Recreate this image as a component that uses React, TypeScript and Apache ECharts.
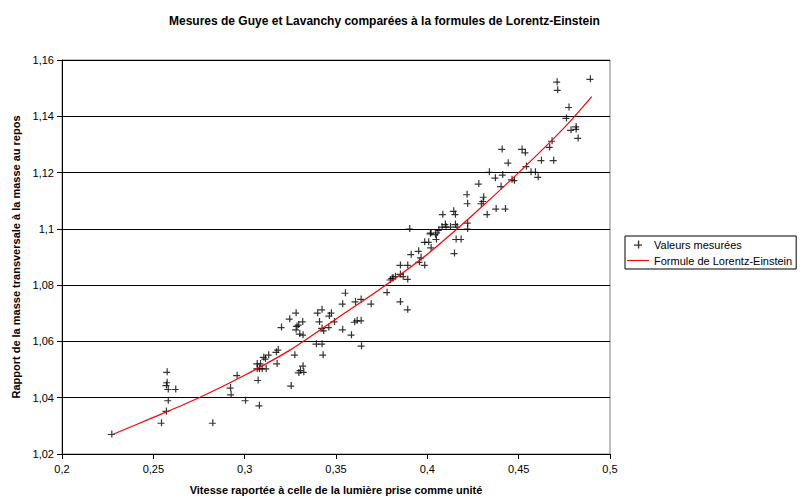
import React, { useEffect, useRef } from "react";
import * as echarts from "echarts";

const titleText = "Mesures de Guye et Lavanchy comparées à la formules de Lorentz-Einstein";
const xAxisName = "Vitesse raportée à celle de la lumière prise comme unité";
const yAxisName = "Rapport de la masse transversale à la masse au repos";
const seriesMeasured = "Valeurs mesurées";
const seriesFormula = "Formule de Lorentz-Einstein";

// Measured values (vitesse, rapport)
const vitesse = [
  0.227, 0.2573, 0.2573, 0.2569, 0.2579, 0.262, 0.2579, 0.2569, 0.2542, 0.2823,
  0.292, 0.2923, 0.2956, 0.3002, 0.3078, 0.3071, 0.3252, 0.3549, 0.3534, 0.3279,
  0.3244, 0.3397, 0.3421, 0.3472, 0.3461, 0.3315, 0.3293, 0.3284, 0.3279, 0.3299,
  0.3317, 0.3407, 0.3199, 0.3421, 0.343, 0.3458, 0.3534, 0.3582, 0.36, 0.339,
  0.3421, 0.3427, 0.3181, 0.3171, 0.3272, 0.3129, 0.3102, 0.3111, 0.3066, 0.3084,
  0.3066, 0.3078, 0.3093, 0.3115, 0.3175, 0.3317, 0.3303, 0.3321, 0.3294, 0.3909,
  0.395, 0.385, 0.389, 0.3805, 0.3823, 0.385, 0.3865, 0.389, 0.3777, 0.3604,
  0.3635, 0.369, 0.385, 0.389, 0.3613, 0.3635, 0.4279, 0.4215, 0.4218, 0.4082,
  0.4142, 0.4151, 0.3901, 0.4096, 0.4078, 0.41, 0.4124, 0.4151, 0.416, 0.4218,
  0.4218, 0.406, 0.4051, 0.4042, 0.4018, 0.4155, 0.4182, 0.3983, 0.4005, 0.4018,
  0.4146, 0.3963, 0.3954, 0.3983, 0.4407, 0.4516, 0.4534, 0.444, 0.454, 0.4337,
  0.441, 0.437, 0.4565, 0.4589, 0.4604, 0.4461, 0.4474, 0.4401, 0.4306, 0.4303,
  0.4293, 0.4374, 0.4425, 0.4325, 0.489, 0.4708, 0.4711, 0.4773, 0.4759, 0.4812,
  0.4812, 0.4784, 0.4823, 0.468, 0.4667, 0.4622, 0.4689, 0.4014, 0.4047, 0.381,
  0.3795, 0.3637, 0.3489,
];
const rapport = [
  1.0271, 1.0492, 1.0455, 1.0445, 1.0431, 1.0431, 1.0391, 1.0353, 1.0311, 1.0311,
  1.0436, 1.0412, 1.048, 1.0391, 1.0373, 1.0463, 1.0443, 1.0773, 1.0734, 1.0702,
  1.0681, 1.0702, 1.0714, 1.0702, 1.0692, 1.0671, 1.066, 1.0655, 1.0643, 1.0628,
  1.0624, 1.0671, 1.0651, 1.0648, 1.0639, 1.0651, 1.0643, 1.0624, 1.067, 1.0592,
  1.0592, 1.0553, 1.0571, 1.0563, 1.0553, 1.0553, 1.0545, 1.0539, 1.0522, 1.0522,
  1.0504, 1.0504, 1.0504, 1.0504, 1.0522, 1.0514, 1.0498, 1.0492, 1.049, 1.091,
  1.0922, 1.0872, 1.0872, 1.0825, 1.0832, 1.084, 1.0832, 1.0822, 1.0775, 1.0742,
  1.0751, 1.0734, 1.0742, 1.0714, 1.0675, 1.0675, 1.1161, 1.1123, 1.1091, 1.1052,
  1.1064, 1.1052, 1.1001, 1.1017, 1.1008, 1.1008, 1.1008, 1.1017, 1.1008, 1.1022,
  1.1001, 1.0996, 1.0987, 1.0981, 1.0987, 1.0964, 1.0964, 1.0954, 1.0954, 1.0934,
  1.0914, 1.0899, 1.0883, 1.0872, 1.1284, 1.1284, 1.1272, 1.1235, 1.1223, 1.1203,
  1.1193, 1.1182, 1.1203, 1.1203, 1.1185, 1.1176, 1.1173, 1.1152, 1.1114, 1.1099,
  1.1091, 1.1072, 1.1072, 1.1052, 1.1533, 1.1523, 1.1494, 1.1433, 1.1394, 1.1364,
  1.1355, 1.1352, 1.1323, 1.1313, 1.1291, 1.1244, 1.1244, 1.0984, 1.0964, 1.0826,
  1.082, 1.0585, 1.0671,
];

// Lorentz-Einstein curve
const curveX = [0.228, 0.25, 0.275, 0.3, 0.325, 0.35, 0.375, 0.4, 0.425, 0.45, 0.475, 0.49];
const curveY = [1.027, 1.033, 1.040, 1.048, 1.057, 1.068, 1.079, 1.091, 1.105, 1.120, 1.136, 1.147];

const FONT = '"Liberation Sans", Arial, sans-serif';
const PLUS = "path://M0,3.4H7V4.6H0Z M3.4,0H4.6V7H3.4Z";
const LINE_ICON = "path://M0,0H24V1.2H0Z";

const fmt = (v: number) => String(Math.round(v * 100) / 100).replace(".", ",");

export default function App() {
  const ref = useRef<HTMLDivElement>(null);
  useEffect(() => {
    if (!ref.current) return;
    const chart = echarts.init(ref.current, undefined, { renderer: "svg" });
    const measured = vitesse.map((v, i) => [v, rapport[i]]);
    const curve = curveX.map((v, i) => [v, curveY[i]]);
    chart.setOption({
      animation: false,
      backgroundColor: "#ffffff",
      textStyle: { fontFamily: FONT },
      title: {
        text: titleText,
        left: 164,
        top: 10,
        textStyle: { fontFamily: FONT, fontSize: 12, fontWeight: "bold", color: "#000" },
      },
      grid: {
        left: 62,
        right: 193,
        top: 60,
        bottom: 44,
        show: true,
        borderColor: "#808080",
        borderWidth: 1,
        backgroundColor: "transparent",
      },
      legend: {
        orient: "vertical",
        left: 625,
        top: 236,
        padding: [3, 4, 3, 2],
        borderColor: "#000",
        borderWidth: 1,
        itemWidth: 22,
        itemHeight: 8,
        itemGap: 5,
        textStyle: { fontFamily: FONT, fontSize: 11, color: "#000" },
        data: [
          { name: seriesMeasured, icon: PLUS },
          { name: seriesFormula, icon: LINE_ICON },
        ],
      },
      xAxis: {
        type: "value",
        min: 0.2,
        max: 0.5,
        interval: 0.05,
        name: xAxisName,
        nameLocation: "middle",
        nameGap: 30,
        nameTextStyle: { fontFamily: FONT, fontSize: 11, fontWeight: "bold", color: "#000" },
        axisLine: { show: true, lineStyle: { color: "#000", width: 1 } },
        axisTick: { show: true, inside: false, length: 5, lineStyle: { color: "#000" } },
        axisLabel: { formatter: fmt, fontFamily: FONT, fontSize: 11, color: "#000", margin: 9 },
        splitLine: { show: false },
      },
      yAxis: {
        type: "value",
        min: 1.02,
        max: 1.16,
        interval: 0.02,
        name: yAxisName,
        nameLocation: "middle",
        nameGap: 34,
        nameTextStyle: { fontFamily: FONT, fontSize: 11, fontWeight: "bold", color: "#000" },
        axisLine: { show: true, onZero: false, lineStyle: { color: "#000", width: 1 } },
        axisTick: { show: true, inside: false, length: 5, lineStyle: { color: "#000" } },
        axisLabel: { formatter: fmt, fontFamily: FONT, fontSize: 11, color: "#000", margin: 8 },
        splitLine: { show: true, lineStyle: { color: "#000", width: 1 } },
      },
      series: [
        {
          name: seriesMeasured,
          type: "scatter",
          symbol: PLUS,
          symbolSize: 7,
          itemStyle: { color: "#000" },
          data: measured,
          z: 2,
        },
        {
          name: seriesFormula,
          type: "line",
          smooth: 0.3,
          symbol: "none",
          showSymbol: false,
          lineStyle: { color: "#ff0000", width: 1.2 },
          itemStyle: { color: "#ff0000" },
          data: curve,
          z: 3,
        },
      ],
    });
    return () => chart.dispose();
  }, []);
  return (
    <div
      ref={ref}
      style={{ position: "absolute", left: 0, top: 0, width: 803, height: 500, background: "#fff" }}
    />
  );
}
